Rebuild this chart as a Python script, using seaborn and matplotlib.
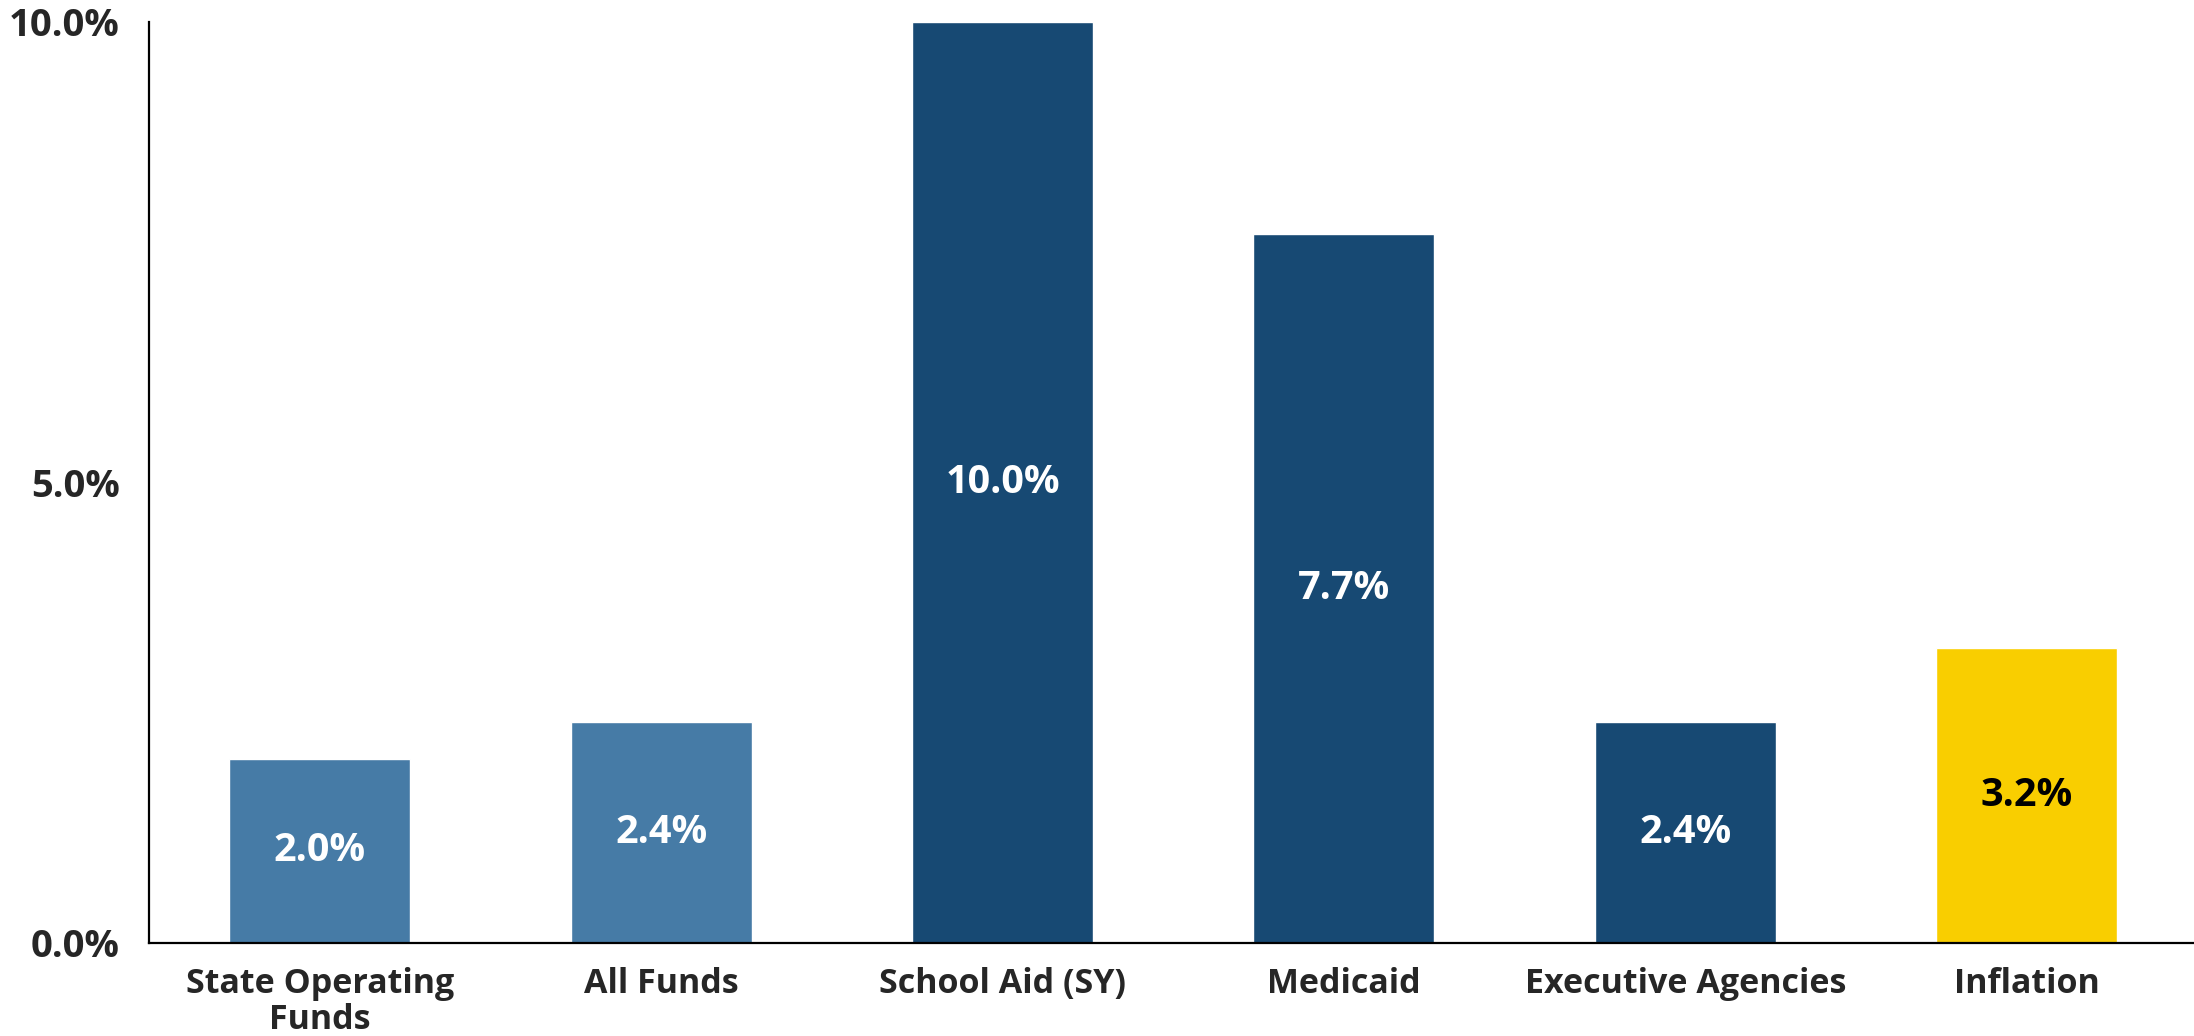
import pandas as pd
import matplotlib
matplotlib.use("Agg")
import matplotlib.pyplot as plt
import seaborn as sns

# Year-over-year growth by category
categories = ["State Operating\nFunds", "All Funds", "School Aid (SY)",
              "Medicaid", "Executive Agencies", "Inflation"]
growth = [2.0, 2.4, 10.0, 7.7, 2.4, 3.2]
bar_colors = ["#467BA6", "#467BA6", "#174973", "#174973", "#174973", "#F9CE00"]
label_colors = ["white", "white", "white", "white", "white", "black"]
y_ticks = [0.0, 5.0, 10.0]

sns.set_theme(style="white")
plt.rcParams['font.family'] = ['Open Sans', 'DejaVu Sans']
plt.rcParams['font.weight'] = 'bold'

df = pd.DataFrame({"category": categories, "growth": growth})

fig = plt.figure(figsize=(21.94, 10.36), dpi=100)
ax = fig.add_axes([0.0679, 0.0898, 0.9321, 0.889])

sns.barplot(data=df, x="category", y="growth", hue="category",
            palette=bar_colors, width=0.53, saturation=1, legend=False, ax=ax)

# Value labels in the middle of each bar
for bar, val, col in zip(ax.patches, growth, label_colors):
    ax.text(bar.get_x() + bar.get_width() / 2, val / 2, f"{val:.1f}%",
            ha="center", va="center", color=col, fontsize=28.5, fontweight="bold")

ax.set_ylim(0, 10)
ax.set_xlim(-0.5, 5.49)
ax.set_yticks(y_ticks)
ax.set_yticklabels([f"{t:.1f}%" for t in y_ticks], fontsize=27.5, fontweight="bold")
ax.set_xticks(range(len(categories)))
ax.set_xticklabels(categories, fontsize=24.5, fontweight="bold", linespacing=1.08)
ax.tick_params(axis="y", length=0, pad=21)
ax.tick_params(axis="x", length=0, pad=17)
ax.set_xlabel("")
ax.set_ylabel("")

for side in ["top", "right"]:
    ax.spines[side].set_visible(False)
for side in ["left", "bottom"]:
    ax.spines[side].set_color("black")
    ax.spines[side].set_linewidth(1.6)

fig.savefig("out.png", dpi=100)
plt.close(fig)
